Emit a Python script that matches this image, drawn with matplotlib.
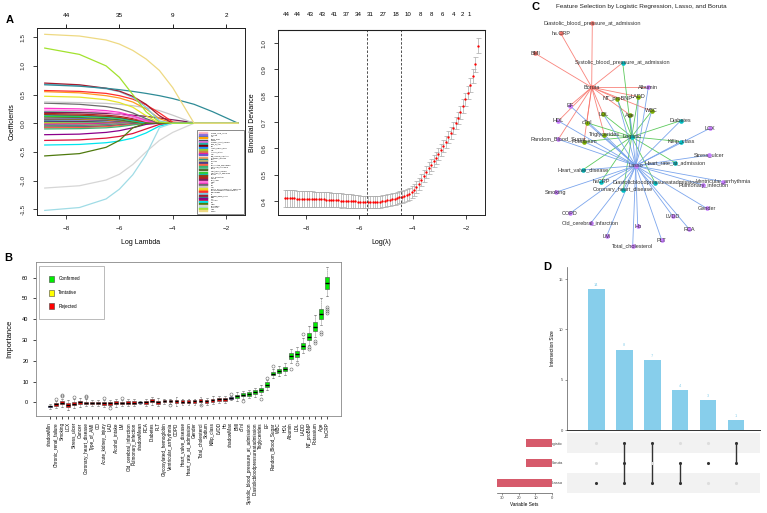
import matplotlib
matplotlib.use("Agg")
import matplotlib.pyplot as plt
import numpy as np
from matplotlib.patches import Patch

plt.rcParams["font.family"] = ["Liberation Sans", "DejaVu Sans"]

W, H = 767, 513

# ---------------- panel A left: lasso coefficient paths ----------------
lasso_knots = [-8.8, -7.5, -6.5, -6.0, -5.5, -5.0, -4.5, -4.0, -3.2, -2.5, -1.55]
lasso_vars = [
    "Chronic_renal_failure", "Smoking", "LCX", "Stress_ulcer", "Cancer", "Coronary_heart_disease",
    "Type_of_AMI", "CO", "Acute_kidney_injury", "LAD", "Alcohol_intake", "LM",
    "Old_cerebral_infarction", "Pulmonary_infection", "RCA", "Diabetes", "PLT",
    "Glycosylated_hemoglobin", "Ventricular_arrhythmia", "COPD", "Heart_valve_disease",
    "Heart_rate_at_admission", "Gender", "Total_cholesterol", "Sodium", "Killip_class", "LVDD",
    "Hb", "BMI", "cTnI", "Systolic_blood_pressure_at_admission",
    "Diastolicbloodpressureatadmission", "Triglycerides", "EF", "Random_Blood_Sugar", "WBC",
    "HDL", "Albumin", "LDL", "LADD", "NT_proBNP", "Potassium", "Age", "hsCRP",
]
lasso_colors = [
    "#FFB6C1", "#9370DB", "#4169E1", "#FFA500", "#2F4F4F", "#DA70D6", "#20B2AA", "#800000",
    "#1E90FF", "#9ACD32", "#CD853F", "#FF1493", "#6A5ACD", "#F4A460", "#008B8B", "#BDB76B",
    "#483D8B", "#FF6347", "#3CB371", "#66CDAA", "#556B2F", "#32CD32", "#00CED1", "#8B4513",
    "#B22222", "#7A1F5C", "#FF77DD", "#FF33CC", "#6B6B6B", "#C8C8C8", "#E5E52B", "#FF9A1F",
    "#FF2D2D", "#7EC8E3", "#A31B2E", "#2E8B96", "#8B008B", "#DC143C", "#00E5EE", "#4F7A0E",
    "#D6D6D6", "#A0DCE6", "#A2E22E", "#EED982",
]
lasso_coefs = [
    [0.10, 0.095, 0.08, 0.06, 0.03, 0.0],
    [0.09, 0.085, 0.07, 0.05, 0.02, 0.0],
    [0.08, 0.075, 0.06, 0.04, 0.01, 0.0],
    [0.07, 0.065, 0.05, 0.03, 0.0],
    [0.06, 0.055, 0.04, 0.02, 0.0],
    [0.05, 0.045, 0.03, 0.01, 0.0],
    [0.04, 0.035, 0.02, 0.0],
    [0.03, 0.025, 0.01, 0.0],
    [0.02, 0.015, 0.0],
    [0.01, 0.005, 0.0],
    [-0.01, -0.008, 0.0],
    [-0.02, -0.015, -0.005, 0.0],
    [-0.03, -0.025, -0.015, 0.0],
    [-0.04, -0.035, -0.02, -0.01, 0.0],
    [-0.05, -0.045, -0.03, -0.015, 0.0],
    [-0.06, -0.055, -0.04, -0.02, 0.0],
    [-0.07, -0.065, -0.05, -0.03, -0.01, 0.0],
    [-0.08, -0.075, -0.06, -0.04, -0.02, 0.0],
    [-0.10, -0.095, -0.08, -0.06, -0.03, 0.0],
    [0.20, 0.195, 0.18, 0.16, 0.12, 0.06, 0.0],
    [0.11, 0.10, 0.08, 0.06, 0.02, 0.0],
    [0.12, 0.115, 0.10, 0.08, 0.04, 0.0],
    [0.14, 0.13, 0.11, 0.09, 0.05, 0.0],
    [0.15, 0.14, 0.12, 0.10, 0.06, 0.02, 0.0],
    [0.17, 0.16, 0.14, 0.12, 0.08, 0.03, 0.0],
    [0.19, 0.185, 0.17, 0.16, 0.14, 0.12, 0.09, 0.06, 0.01, 0.0],
    [0.23, 0.22, 0.19, 0.16, 0.10, 0.03, 0.0],
    [0.26, 0.25, 0.22, 0.19, 0.13, 0.05, 0.0],
    [0.35, 0.33, 0.29, 0.25, 0.18, 0.08, 0.0],
    [0.37, 0.36, 0.345, 0.33, 0.305, 0.27, 0.22, 0.14, 0.0],
    [0.47, 0.455, 0.41, 0.36, 0.28, 0.13, 0.0],
    [0.55, 0.53, 0.48, 0.44, 0.37, 0.25, 0.08, 0.0],
    [0.57, 0.555, 0.52, 0.48, 0.42, 0.32, 0.18, 0.02, 0.0],
    [0.68, 0.655, 0.60, 0.55, 0.45, 0.28, 0.04, 0.0],
    [0.70, 0.67, 0.61, 0.56, 0.47, 0.33, 0.13, 0.0],
    [0.67, 0.645, 0.61, 0.585, 0.555, 0.52, 0.48, 0.43, 0.33, 0.20, 0.0],
    [-0.20, -0.19, -0.16, -0.13, -0.08, -0.02, 0.0],
    [-0.30, -0.29, -0.26, -0.23, -0.18, -0.10, -0.02, 0.0],
    [-0.38, -0.37, -0.34, -0.31, -0.26, -0.17, -0.05, 0.0],
    [-0.57, -0.53, -0.42, -0.30, -0.08, 0.0],
    [-1.13, -1.09, -0.99, -0.89, -0.72, -0.50, -0.30, -0.16, 0.0],
    [-1.52, -1.47, -1.32, -1.15, -0.90, -0.55, -0.08, 0.0],
    [1.31, 1.20, 1.00, 0.80, 0.50, 0.20, 0.02, 0.0],
    [1.55, 1.52, 1.45, 1.38, 1.27, 1.12, 0.92, 0.62, 0.0],
]
lasso_top_pos = [-8, -6, -4, -2]
lasso_top_lab = ["44", "35", "9", "2"]

# ---------------- panel A right: cross-validated deviance ----------------
cv_range = (-8.8, -1.57)
cv_dev = [
    0.410, 0.410, 0.410, 0.410, 0.410, 0.409, 0.409, 0.409, 0.409, 0.408,
    0.408, 0.408, 0.407, 0.407, 0.407, 0.406, 0.406, 0.405, 0.405, 0.404,
    0.404, 0.403, 0.403, 0.402, 0.402, 0.401, 0.401, 0.400, 0.399, 0.399,
    0.398, 0.397, 0.396, 0.396, 0.395, 0.395, 0.395, 0.396, 0.397, 0.398,
    0.399, 0.401, 0.403, 0.405, 0.407, 0.409, 0.411, 0.414, 0.417, 0.420,
    0.424, 0.428, 0.433, 0.442, 0.453, 0.466, 0.480, 0.495, 0.510, 0.524,
    0.538, 0.551, 0.564, 0.578, 0.593, 0.609, 0.625, 0.642, 0.659, 0.677,
    0.696, 0.716, 0.738, 0.761, 0.786, 0.812, 0.842, 0.875, 0.920, 0.990,
]
cv_se = [
    0.031, 0.031, 0.031, 0.031, 0.031, 0.031, 0.030, 0.030, 0.030, 0.030,
    0.030, 0.030, 0.029, 0.029, 0.029, 0.029, 0.029, 0.028, 0.028, 0.028,
    0.028, 0.027, 0.027, 0.027, 0.026, 0.026, 0.026, 0.025, 0.025, 0.025,
    0.024, 0.024, 0.024, 0.023, 0.023, 0.023, 0.023, 0.023, 0.023, 0.023,
    0.023, 0.023, 0.023, 0.023, 0.023, 0.023, 0.023, 0.023, 0.023, 0.023,
    0.023, 0.023, 0.023, 0.023, 0.023, 0.023, 0.023, 0.023, 0.023, 0.023,
    0.023, 0.023, 0.023, 0.023, 0.023, 0.023, 0.023, 0.023, 0.023, 0.023,
    0.024, 0.024, 0.025, 0.025, 0.026, 0.026, 0.027, 0.027, 0.028, 0.029,
]
cv_vlines = [-5.70, -4.43]
cv_top_pos = [-8.74, -8.33, -7.84, -7.39, -6.94, -6.48, -6.03, -5.58, -5.10,
              -4.64, -4.17, -3.70, -3.28, -2.87, -2.48, -2.13, -1.87]
cv_top_lab = ["44", "44", "43", "43", "41", "37", "34", "31", "27",
              "18", "10", "8", "8", "6", "4", "2", "1"]

# ---------------- panel B: Boruta importance ----------------
boruta_feats = [
    "shadowMin", "Chronic_renal_failure", "Smoking", "LCX", "Stress_ulcer", "Cancer",
    "Coronary_heart_disease", "Type_of_AMI", "CO", "Acute_kidney_injury", "LAD",
    "Alcohol_intake", "LM", "Old_cerebral_infarction", "Pulmonary_infection", "shadowMean",
    "RCA", "Diabetes", "PLT", "Glycosylated_hemoglobin", "Ventricular_arrhythmia", "COPD",
    "Heart_valve_disease", "Heart_rate_at_admission", "Gender", "Total_cholesterol", "Sodium",
    "Killip_class", "LVDD", "Hb", "shadowMax", "BMI", "cTnI",
    "Systolic_blood_pressure_at_admission", "Diastolicbloodpressureatadmission",
    "Triglycerides", "EF", "Random_Blood_Sugar", "WBC", "HDL", "Albumin", "LDL", "LADD",
    "NT_proBNP", "Potassium", "Age", "hsCRP",
]
boruta_med = [-2.0, -1.0, -0.3, -1.5, -0.8, 0.0, -0.3, -0.3, -0.2, -0.5, -0.5, -0.2,
              -0.5, -0.2, -0.2, 0.0, 0.0, 0.7, 0.0, 0.4, 0.7, 0.4, 0.3, 0.3, 0.4, 0.8,
              0.4, 0.9, 1.5, 1.4, 2.2, 2.8, 3.7, 3.9, 4.8, 5.8, 8.5, 13.7, 15.0, 16.0,
              22.2, 23.4, 27.2, 31.6, 36.4, 42.4, 57.3]
boruta_iqr = [0.8, 1.2, 1.4, 2.0, 1.4, 1.6, 1.2, 1.0, 1.0, 1.2, 1.2, 1.6, 1.0, 1.2,
              1.2, 0.4, 1.4, 1.4, 1.6, 1.0, 1.0, 1.6, 1.2, 1.2, 1.2, 1.6, 1.4, 1.6,
              1.4, 1.6, 0.8, 1.8, 1.8, 1.8, 2.0, 2.0, 2.2, 1.6, 2.0, 2.2, 2.6, 2.8,
              3.0, 3.6, 4.2, 5.0, 5.6]
boruta_wlo = [-3.2, -2.6, -2.2, -3.5, -2.8, -2.2, -2.0, -1.8, -1.8, -2.2, -2.0, -2.4,
              -2.0, -1.8, -1.8, -0.6, -1.8, -1.2, -2.0, -1.0, -0.8, -1.6, -1.4, -1.4,
              -1.2, -1.2, -1.4, -1.0, -0.2, -0.4, 1.2, 0.8, 1.8, 2.0, 2.6, 3.6, 6.0,
              11.5, 12.5, 13.0, 19.0, 20.0, 23.5, 27.5, 31.5, 37.0, 51.0]
boruta_whi = [-1.0, 0.6, 1.8, 1.0, 1.4, 2.2, 1.5, 1.2, 1.2, 1.2, 1.2, 1.8, 1.0, 1.4,
              1.4, 0.6, 1.8, 2.4, 2.0, 1.6, 1.8, 2.4, 1.8, 1.8, 1.8, 2.6, 2.2, 2.8,
              3.2, 3.2, 3.0, 4.8, 5.6, 5.8, 7.0, 8.2, 10.8, 16.0, 17.5, 19.0, 25.8,
              26.8, 31.0, 36.5, 42.0, 50.0, 65.0]
boruta_status = (["S"] + ["R"] * 14 + ["S"] + ["R"] * 14 + ["S"] + ["C"] * 16)
boruta_fliers = {
    1: [1.8], 2: [2.8, 3.3], 4: [2.4], 6: [2.5, 3.0], 9: [2.3], 10: [-2.8], 12: [2.0],
    20: [-1.5], 25: [-1.5], 30: [4.2], 32: [0.8], 35: [1.5], 36: [11.5], 37: [17.5],
    40: [16.0], 41: [18.5], 42: [33.0], 43: [25.5, 26.5], 44: [28.5, 29.5],
    45: [33.0, 34.0], 46: [43.0, 44.0, 45.0, 46.0],
}
status_color = {"S": "#1a1acd", "R": "#ff0000", "C": "#00ee00"}

# ---------------- panel C: network ----------------
node_pos = {
    "Boruta": (591.7, 87.3), "Logistic": (631.7, 136.7), "Lasso": (635.7, 165.7),
    "Diastolic_blood_pressure_at_admission": (592.3, 23.3), "hs.CRP": (560.7, 33.3),
    "BMI": (535.0, 53.3), "Systolic_blood_pressure_at_admission": (622.7, 62.7),
    "NT_proBNP": (617.3, 98.7), "LADD": (638.3, 96.7), "Age": (630.0, 115.0),
    "WBC": (651.7, 111.0), "LDL": (603.3, 114.3), "cTnI": (586.7, 122.7),
    "Triglycerides": (604.3, 134.7), "Potassium": (584.0, 141.7),
    "Albumin": (648.3, 87.3), "EF": (570.0, 105.7), "HDL": (558.3, 121.0),
    "Random_Blood_Sugar": (558.3, 139.3), "Diabetes": (680.7, 120.7),
    "Killip_class": (681.0, 141.7), "Heart_rate_at_admission": (675.0, 162.7),
    "Heart_valve_disease": (582.7, 170.0), "hsCRP": (601.0, 181.7),
    "Diastolicbloodpressureatadmission": (655.0, 182.7),
    "Coronary_heart_disease": (623.3, 190.0), "LCX": (710.0, 128.3),
    "Stress_ulcer": (709.3, 155.0), "Ventricular_arrhythmia": (723.3, 181.7),
    "Pulmonary_infection": (703.3, 185.0), "Smoking": (555.7, 192.3),
    "COPD": (570.0, 213.3), "Gender": (706.7, 208.3), "LVDD": (672.7, 216.0),
    "Old_cerebral_infarction": (590.7, 223.3), "Hb": (637.7, 226.0),
    "RCA": (689.3, 229.3), "LM": (606.7, 236.0), "PLT": (661.7, 240.0),
    "Total_cholesterol": (632.7, 246.0),
}
all_three = ["NT_proBNP", "LADD", "Age", "WBC", "LDL", "cTnI", "Triglycerides", "Potassium"]
lasso_logistic = ["Diabetes", "Killip_class", "Heart_rate_at_admission", "Heart_valve_disease",
                  "hsCRP", "Diastolicbloodpressureatadmission", "Coronary_heart_disease"]
lasso_boruta = ["Albumin", "EF", "HDL", "Random_Blood_Sugar"]
boruta_only = ["Diastolic_blood_pressure_at_admission", "hs.CRP", "BMI"]
logistic_boruta = ["Systolic_blood_pressure_at_admission"]
lasso_only = ["LCX", "Stress_ulcer", "Ventricular_arrhythmia", "Pulmonary_infection", "Smoking",
              "COPD", "Gender", "LVDD", "Old_cerebral_infarction", "Hb", "RCA", "LM", "PLT",
              "Total_cholesterol"]
method_members = {
    "Boruta": boruta_only + logistic_boruta + all_three + lasso_boruta,
    "Logistic": logistic_boruta + all_three + lasso_logistic,
    "Lasso": all_three + lasso_logistic + lasso_boruta + lasso_only,
}
edge_color = {"Boruta": "#F8766D", "Logistic": "#4CC44C", "Lasso": "#6E9CEB"}
node_group_color = {"red": "#F8766D", "olive": "#7CAE00", "teal": "#00BFC4", "purple": "#C77CFF"}
node_group = {"Boruta": "red", "Logistic": "teal", "Lasso": "purple"}
node_group.update({n: "red" for n in boruta_only})
node_group.update({n: "olive" for n in all_three})
node_group.update({n: "teal" for n in lasso_logistic + logistic_boruta})
node_group.update({n: "purple" for n in lasso_boruta + lasso_only})

# ---------------- panel D: upset ----------------
inter_sizes = [14, 8, 7, 4, 3, 1]
set_names = ["Lasso", "Boruta", "Logistic"]
set_sizes = [33, 16, 16]
inter_members = [["Lasso"], ["Lasso", "Boruta", "Logistic"], ["Lasso", "Logistic"],
                 ["Lasso", "Boruta"], ["Boruta"], ["Boruta", "Logistic"]]


def rect(x0, y0, x1, y1):
    return [x0 / W, 1 - y1 / H, (x1 - x0) / W, (y1 - y0) / H]


def r_style(ax, fs=4.6):
    for s in ax.spines.values():
        s.set_linewidth(0.7)
        s.set_color("#222222")
    ax.tick_params(direction="out", length=3, width=0.6, labelsize=fs, pad=5, colors="#222222")


fig = plt.figure(figsize=(W / 100, H / 100), dpi=100)

# ---- A left
ax1 = fig.add_axes(rect(37, 28, 245, 215))
for coefs, col, name in zip(lasso_coefs, lasso_colors, lasso_vars):
    vals = coefs + [0.0] * (len(lasso_knots) - len(coefs))
    ax1.plot(lasso_knots, vals, color=col, lw=0.9, label=name)
ax1.set_xlim(-9.09, -1.29)
ax1.set_ylim(-1.6, 1.66)
ax1.set_xticks([-8, -6, -4, -2])
ax1.set_yticks([-1.5, -1.0, -0.5, 0.0, 0.5, 1.0, 1.5])
ax1.set_yticklabels(["-1.5", "-1.0", "-0.5", "0.0", "0.5", "1.0", "1.5"], rotation=90, va="center")
r_style(ax1)
ax1.set_xlabel("Log Lambda", fontsize=5, labelpad=6)
ax1.set_ylabel("Coefficients", fontsize=5, labelpad=4)
top1 = ax1.secondary_xaxis("top")
top1.set_xticks(lasso_top_pos)
top1.set_xticklabels(lasso_top_lab)
top1.tick_params(direction="out", length=3, width=0.6, labelsize=4.6, pad=4)
top1.spines["top"].set_linewidth(0.7)
leg = ax1.legend(loc="lower right", fontsize=1.3, ncol=1, frameon=True, fancybox=False,
                 edgecolor="#333333", handlelength=4.0, handletextpad=2, labelspacing=0.18,
                 borderpad=1.4, borderaxespad=0.5)
leg.get_frame().set_linewidth(0.5)
for h in leg.get_lines():
    h.set_linewidth(1.7)

# ---- A right
ax2 = fig.add_axes(rect(278, 30, 485, 215))
cv_x = np.linspace(cv_range[0], cv_range[1], len(cv_dev))
ax2.errorbar(cv_x, cv_dev, yerr=cv_se, fmt="none", ecolor="#A9A9A9", elinewidth=0.5,
             capsize=1.8, capthick=0.5)
ax2.plot(cv_x, cv_dev, "o", color="#FF0000", ms=1.7, mec="none")
for v in cv_vlines:
    ax2.axvline(v, color="#333333", ls=(0, (3, 2)), lw=0.6)
ax2.set_xlim(-9.05, -1.29)
ax2.set_ylim(0.347, 1.05)
ax2.set_xticks([-8, -6, -4, -2])
ax2.set_yticks([0.4, 0.5, 0.6, 0.7, 0.8, 0.9, 1.0])
ax2.set_yticklabels(["0.4", "0.5", "0.6", "0.7", "0.8", "0.9", "1.0"], rotation=90, va="center")
r_style(ax2)
ax2.set_xlabel("Log(\u03bb)", fontsize=5, labelpad=6)
ax2.set_ylabel("Binomial Deviance", fontsize=5, labelpad=4)
top2 = ax2.secondary_xaxis("top")
top2.set_xticks(cv_top_pos)
top2.set_xticklabels(cv_top_lab)
top2.tick_params(length=0, labelsize=4.4, pad=9)

# ---- B
ax3 = fig.add_axes(rect(36, 262, 341, 416))
stats = []
for i, name in enumerate(boruta_feats):
    m, q = boruta_med[i], boruta_iqr[i]
    stats.append(dict(med=m, q1=m - q / 2, q3=m + q / 2, whislo=boruta_wlo[i],
                      whishi=boruta_whi[i], fliers=boruta_fliers.get(i, []), label=name))
pos = np.arange(1, len(boruta_feats) + 1)
bp = ax3.bxp(stats, positions=pos, widths=0.62, patch_artist=True,
             boxprops=dict(edgecolor="#444444", linewidth=0.4),
             medianprops=dict(color="black", linewidth=1.0),
             whiskerprops=dict(color="#555555", linewidth=0.4, linestyle=(0, (2, 1.5))),
             capprops=dict(color="#555555", linewidth=0.4),
             flierprops=dict(marker="o", markerfacecolor="none", markeredgecolor="#666666",
                             markersize=2.2, markeredgewidth=0.4))
for patch, st in zip(bp["boxes"], boruta_status):
    patch.set_facecolor(status_color[st])
ax3.set_xlim(-1.3, 49.3)
ax3.set_ylim(-6.6, 67.5)
ax3.set_yticks([0, 10, 20, 30, 40, 50, 60])
ax3.set_xticks(pos)
ax3.set_xticklabels(boruta_feats, rotation=90, fontsize=3.3)
for s in ax3.spines.values():
    s.set_linewidth(0.6)
    s.set_color("#888888")
ax3.tick_params(axis="y", direction="out", length=2.5, width=0.5, labelsize=4, pad=3)
ax3.tick_params(axis="x", direction="out", length=2.5, width=0.5, pad=2)
ax3.set_ylabel("Importance", fontsize=5.5, labelpad=6)
legB = ax3.legend(handles=[Patch(facecolor="#00ee00", edgecolor="#444444", lw=0.4, label="Confirmed"),
                           Patch(facecolor="#ffff00", edgecolor="#444444", lw=0.4, label="Tentative"),
                           Patch(facecolor="#ff0000", edgecolor="#444444", lw=0.4, label="Rejected")],
                  loc="upper left", bbox_to_anchor=(0.01, 0.0, 0.213, 0.975), mode="expand",
                  fontsize=3.3, frameon=True, fancybox=False, edgecolor="#888888",
                  handlelength=1.0, handleheight=1.6, labelspacing=1.7, borderpad=2.2,
                  handletextpad=1.0, borderaxespad=0)
legB.get_frame().set_linewidth(0.5)
legB.get_frame().set_facecolor("white")

# ---- C network
ax4 = fig.add_axes(rect(500, 12, 767, 255))
ax4.set_xlim(500, 767)
ax4.set_ylim(255, 12)
ax4.axis("off")
for hub, members in method_members.items():
    hx, hy = node_pos[hub]
    for m in members:
        mx, my = node_pos[m]
        ax4.plot([hx, mx], [hy, my], color=edge_color[hub], lw=0.6, alpha=0.9, zorder=1)
for name, (x, y) in node_pos.items():
    ax4.scatter(x, y, s=11, color=node_group_color[node_group[name]], zorder=2, linewidths=0)
    ax4.text(x, y, name, fontsize=4.0, color="#333333", ha="center", va="center", zorder=3)
fig.text(641.5 / W, 1 - 7 / H, "Feature Selection by Logistic Regression, Lasso, and Boruta",
         fontsize=4.6, ha="center", va="center", color="#222222")

# ---- D upset
ax5 = fig.add_axes(rect(567, 267, 760, 430))
xs = np.arange(len(inter_sizes))
ax5.bar(xs, inter_sizes, width=0.6, color="#87CEEB")
for x, v in zip(xs, inter_sizes):
    ax5.text(x, v + 0.2, str(v), fontsize=2.8, color="#87CEEB", ha="center", va="bottom")
ax5.set_xlim(-1.05, 5.86)
ax5.set_ylim(0, 16.2)
ax5.set_xticks([])
ax5.set_yticks([0, 5, 10, 15])
ax5.tick_params(axis="y", length=1.5, width=0.4, labelsize=3, pad=1, colors="#444444")
for s in ["top", "right"]:
    ax5.spines[s].set_visible(False)
ax5.spines["left"].set_linewidth(0.5)
ax5.spines["left"].set_color("#555555")
ax5.spines["bottom"].set_linewidth(0.7)
ax5.spines["bottom"].set_color("#333333")
ax5.set_ylabel("Intersection Size", fontsize=3.4, labelpad=3)

ax6 = fig.add_axes(rect(567, 433, 760, 493))
rows = {n: i for i, n in enumerate(set_names)}
for n, r in rows.items():
    if n != "Boruta":
        ax6.axhspan(r - 0.5, r + 0.5, color="#F2F2F2", lw=0)
for x, members in zip(xs, inter_members):
    for n, r in rows.items():
        on = n in members
        ax6.scatter(x, r, s=5, color="#333333" if on else "#DDDDDD", zorder=3, linewidths=0)
    ys = [rows[m] for m in members]
    if len(ys) > 1:
        ax6.plot([x, x], [min(ys), max(ys)], color="#333333", lw=1.0, zorder=2)
ax6.set_xlim(-1.05, 5.86)
ax6.set_ylim(-0.5, 2.5)
ax6.set_xticks([])
ax6.set_yticks(list(rows.values()))
ax6.set_yticklabels(list(rows.keys()), fontsize=3)
ax6.tick_params(axis="y", length=0, pad=3, colors="#444444")
for s in ax6.spines.values():
    s.set_visible(False)

ax7 = fig.add_axes(rect(497, 433, 552, 493))
ax7.barh([rows[n] for n in set_names], set_sizes, height=0.37, color="#D65A6B")
ax7.set_xlim(33.3, 0)
ax7.set_ylim(-0.5, 2.5)
ax7.set_yticks([])
ax7.set_xticks([30, 20, 10, 0])
ax7.tick_params(axis="x", length=1.5, width=0.4, labelsize=3, pad=1, colors="#444444")
for s in ["top", "right", "left"]:
    ax7.spines[s].set_visible(False)
ax7.spines["bottom"].set_linewidth(0.5)
ax7.spines["bottom"].set_color("#555555")
ax7.set_xlabel("Variable Sets", fontsize=3.4, labelpad=1)

# panel letters
for lab, (px, py) in {"A": (10, 20), "B": (8, 258), "C": (535, 7), "D": (547, 267)}.items():
    fig.text(px / W, 1 - py / H, lab, fontsize=8, fontweight="bold", ha="center", va="center")

fig.savefig("out.png", dpi=100)
